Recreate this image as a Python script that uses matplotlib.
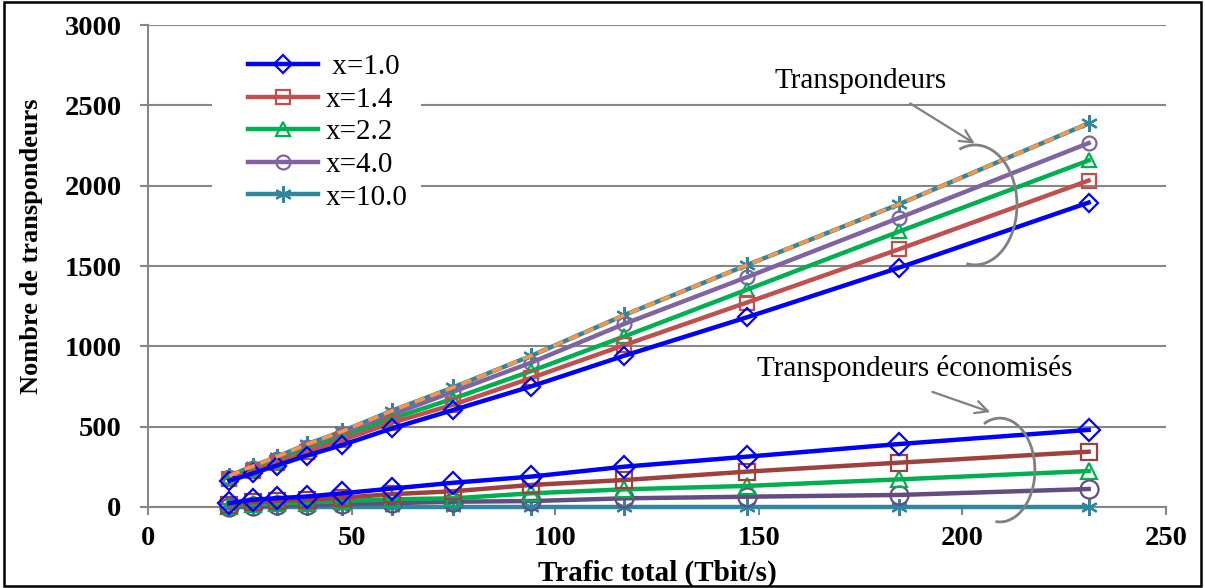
import matplotlib
matplotlib.use("Agg")
import numpy as np
import matplotlib.pyplot as plt
from matplotlib.patches import Rectangle

# ---- data ----
traffic = [20, 25.8, 31.6, 39, 47.6, 60, 75, 94, 117, 147, 184.5, 231]
labels = [" x=1.0", "x=1.4", "x=2.2", "x=4.0", "x=10.0"]

t_x1_0 = [163, 210, 258, 320, 385, 490, 604, 750, 942, 1180, 1490, 1895]
t_x1_4 = [175, 225, 276, 345, 415, 525, 637, 802, 1008, 1272, 1605, 2032]
t_x2_2 = [182, 235, 288, 360, 433, 550, 675, 845, 1062, 1352, 1715, 2157]
t_x4_0 = [188, 245, 300, 375, 453, 575, 718, 898, 1140, 1430, 1800, 2265]
t_x10_0 = [195, 255, 312, 390, 470, 600, 745, 940, 1195, 1505, 1885, 2388]

s_x1_0 = [25, 45, 55, 65, 85, 115, 151, 189, 251, 313, 392, 480]
s_x1_4 = [15, 30, 38, 45, 58, 80, 98, 137, 168, 220, 276, 344]
s_x2_2 = [8, 18, 22, 28, 36, 48, 54, 85, 110, 131, 172, 224]
s_x4_0 = [3, 8, 10, 13, 17, 24, 33, 37, 54, 64, 75, 112]
s_x10_0 = [0, 0, 0, 0, 0, 0, 0, 0, 0, 0, 0, 0]

x_ticks = [0, 50, 100, 150, 200, 250]
y_ticks = [0, 500, 1000, 1500, 2000, 2500, 3000]

# ---- style ----
plt.rcParams['font.family'] = ['Liberation Serif', 'DejaVu Serif']
top_colors = ['#0000FF', '#C0504D', '#00B050', '#8064A2', '#31859C']
low_colors = ['#0000FF', '#A0403D', '#00B050', '#634C80', '#31859C']
markers = ['D', 's', '^', 'o', (6, 2, 0)]
top_ms = [9, 10, 10, 10, 12]
low_ms = [11, 11, 11, 13, 12]
grid_col = '#868686'

fig = plt.figure(figsize=(12.05, 5.88), dpi=100)
ax = fig.add_axes([148/1205, 1 - 507/588, (1166-148)/1205, (507-25)/588])

tops = [t_x1_0, t_x1_4, t_x2_2, t_x4_0, t_x10_0]
lows = [s_x1_0, s_x1_4, s_x2_2, s_x4_0, s_x10_0]

handles = []
for i in range(5):
    h, = ax.plot(traffic, tops[i], color=top_colors[i], lw=3.2, marker=markers[i],
                 ms=top_ms[i], mfc='none', mec=top_colors[i], mew=1.6,
                 label=labels[i], zorder=3 + (4 - i) * 0.1, clip_on=False)
    handles.append(h)
# orange dashed overlay on x=10.0 total
ax.plot(traffic, t_x10_0, color='#F79646', lw=2.6, dashes=(3, 1.6), zorder=4)

for i in range(5):
    ax.plot(traffic, lows[i], color=low_colors[i], lw=3.2, marker=markers[i],
            ms=low_ms[i], mfc='none', mec=low_colors[i], mew=1.6,
            zorder=3 + (4 - i) * 0.1, clip_on=False)

ax.set_xlim(0, 250)
ax.set_ylim(0, 3000)
ax.set_xticks(x_ticks)
ax.set_yticks(y_ticks)
ax.grid(axis='y', color=grid_col, lw=1.5, zorder=0)
ax.set_axisbelow(True)
for s in ['top', 'right']:
    ax.spines[s].set_visible(False)
for s in ['left', 'bottom']:
    ax.spines[s].set_color(grid_col)
    ax.spines[s].set_linewidth(1.5)
ax.tick_params(axis='both', colors=grid_col, length=6, width=1.5, direction='out',
               labelcolor='black', labelsize=20.5)
ax.tick_params(axis='y', pad=13)
ax.tick_params(axis='x', pad=8)
for lab in ax.get_xticklabels() + ax.get_yticklabels():
    lab.set_fontweight('bold')

ax.set_xlabel('Trafic total (Tbit/s)', fontsize=21, fontweight='bold', labelpad=6)
ax.set_ylabel('Nombre de transpondeurs', fontsize=19, fontweight='bold')
ax.yaxis.set_label_coords(-0.103, 0.54)

# white legend area hiding the gridlines
ax.add_patch(Rectangle((0.0629, 0.605), 0.205, 0.385, transform=ax.transAxes,
                       facecolor='white', edgecolor='none', zorder=2))
leg = ax.legend(handles=handles, loc='upper left', bbox_to_anchor=(0.0982, 0.94),
                frameon=False, fontsize=21, handlelength=2.4, handletextpad=0.25,
                labelspacing=0.21, borderpad=0, borderaxespad=0)
leg.set_zorder(5)

# annotations
ann_col = '#808080'
arrow = dict(arrowstyle='->,head_length=0.9,head_width=0.45', color=ann_col, lw=1.6)


def brace(cx, cy, rx, ry, a0, a1):
    eta = np.radians(np.linspace(a0, a1, 100))
    ax.plot(cx + rx * np.cos(eta), cy + ry * np.sin(eta), color=ann_col, lw=2,
            zorder=6, clip_on=False)


ax.text(175.1, 2650, 'Transpondeurs', fontsize=21, ha='center', va='center')
ax.annotate('', xy=(203.6, 2253), xytext=(186.6, 2521), arrowprops=arrow)
brace(203.1, 1880, 10.3, 373, -100, 110)

ax.text(188.4, 860, 'Transpondeurs économisés', fontsize=21, ha='center', va='center')
ax.annotate('', xy=(207.5, 585), xytext=(192.0, 722), arrowprops=arrow)
brace(209.2, 230, 8.6, 323, -95, 115)

# figure border
fig.patches.append(Rectangle((0.003, 0.003), 0.994, 0.994, transform=fig.transFigure,
                             fill=False, edgecolor='black', lw=1.8))

fig.savefig('out.png', dpi=100)
